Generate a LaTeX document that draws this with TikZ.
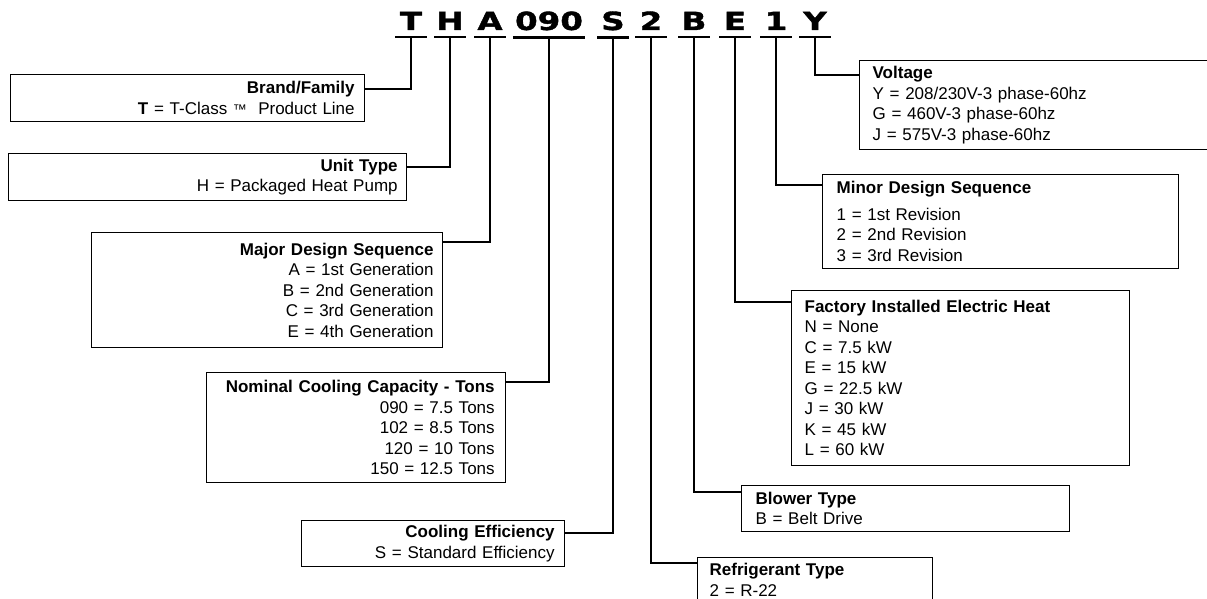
\documentclass[tikz,border=0pt]{standalone}
\usepackage{fontspec}
\setmainfont{Liberation Sans}
\newfontfamily\codefont[FakeStretch=1.3,FakeBold=1.5]{DejaVu Sans}
\begin{document}
\begin{tikzpicture}[x=1pt,y=-1pt,
    code/.style={font=\codefont\bfseries\fontsize{25}{25}\selectfont,inner xsep=0pt,inner ysep=7pt,minimum width=31pt,anchor=base},
    bar/.style={line width=2.5pt},
    lead/.style={line width=2pt},
    infobox/.style={draw,line width=1.3pt,anchor=north west,font=\fontsize{17}{20.5}\selectfont},
    lbox/.style={infobox,align=right},
    rbox/.style={infobox,align=left}]
    \useasboundingbox (0,0) rectangle (1207,599);

    % model number characters
    \foreach \name/\txt/\x/\w in {T/T/411/31, H/H/450/31, A/A/490/31, cap/090/549/72, S/S/613/31,
                                  ref/2/651/31, B/B/694/31, E/E/735/31, rev/1/776/31, Y/Y/815/31} {
        \node[code,minimum width=\w pt] (c\name) at (\x,30) {\txt};
        \draw[bar] (c\name.south west) -- (c\name.south east);
    }

    % left side boxes
    \node[lbox,inner xsep=10pt,text width=334pt,minimum height=47pt] (brand) at (10,74)
        {\textbf{Brand/Family}\\\textbf{T} = T-Class {\fontsize{14}{14}\selectfont\texttrademark}\ \ Product Line};
    \node[lbox,inner xsep=9pt,text width=380pt,minimum height=47pt] (unit) at (8,153)
        {\textbf{Unit Type}\\H = Packaged Heat Pump};
    \node[lbox,inner xsep=9pt,text width=333pt,minimum height=115pt] (major) at (91,232)
        {\textbf{Major Design Sequence}\\A = 1st Generation\\B = 2nd Generation\\C = 3rd Generation\\E = 4th Generation};
    \node[lbox,inner xsep=11pt,text width=277pt,minimum height=110pt] (nominal) at (206,372)
        {\textbf{Nominal Cooling Capacity - Tons}\\090 = 7.5 Tons\\102 = 8.5 Tons\\120 = 10 Tons\\150 = 12.5 Tons};
    \node[lbox,inner xsep=10pt,text width=243pt,minimum height=46pt] (eff) at (301,520)
        {\textbf{Cooling Efficiency}\\S = Standard Efficiency};

    % right side boxes
    \node[rbox,inner xsep=13pt,text width=330pt,minimum height=89pt] (volt) at (859,60)
        {\textbf{Voltage}\\Y = 208/230V-3 phase-60hz\\G = 460V-3 phase-60hz\\J = 575V-3 phase-60hz};
    \node[rbox,inner xsep=14pt,text width=328pt,minimum height=94pt] (minor) at (822,174)
        {\textbf{Minor Design Sequence}\\[6pt]1 = 1st Revision\\2 = 2nd Revision\\3 = 3rd Revision};
    \node[rbox,inner xsep=13pt,text width=312pt,minimum height=175pt] (heat) at (791,290)
        {\textbf{Factory Installed Electric Heat}\\N = None\\C = 7.5 kW\\E = 15 kW\\G = 22.5 kW\\J = 30 kW\\K = 45 kW\\L = 60 kW};
    \node[rbox,inner xsep=14pt,text width=300pt,minimum height=46pt] (blower) at (741,485)
        {\textbf{Blower Type}\\B = Belt Drive};
    \node[rbox,inner xsep=12pt,text width=211pt,minimum height=44pt] (refrig) at (697,557)
        {\textbf{Refrigerant Type}\\2 = R-22};

    % leads
    \draw[lead] (cT.south) |- ([yshift=-15pt]brand.north east);
    \draw[lead] (cH.south) |- ([yshift=-14pt]unit.north east);
    \draw[lead] (cA.south) |- ([yshift=-10pt]major.north east);
    \draw[lead] (ccap.south) |- ([yshift=-10pt]nominal.north east);
    \draw[lead] (cS.south) |- ([yshift=-13pt]eff.north east);
    \draw[lead] (cY.south) |- ([yshift=-15pt]volt.north west);
    \draw[lead] (crev.south) |- ([yshift=-11pt]minor.north west);
    \draw[lead] (cE.south) |- ([yshift=-12pt]heat.north west);
    \draw[lead] (cB.south) |- ([yshift=-7pt]blower.north west);
    \draw[lead] (cref.south) |- ([yshift=-6pt]refrig.north west);
\end{tikzpicture}
\end{document}
